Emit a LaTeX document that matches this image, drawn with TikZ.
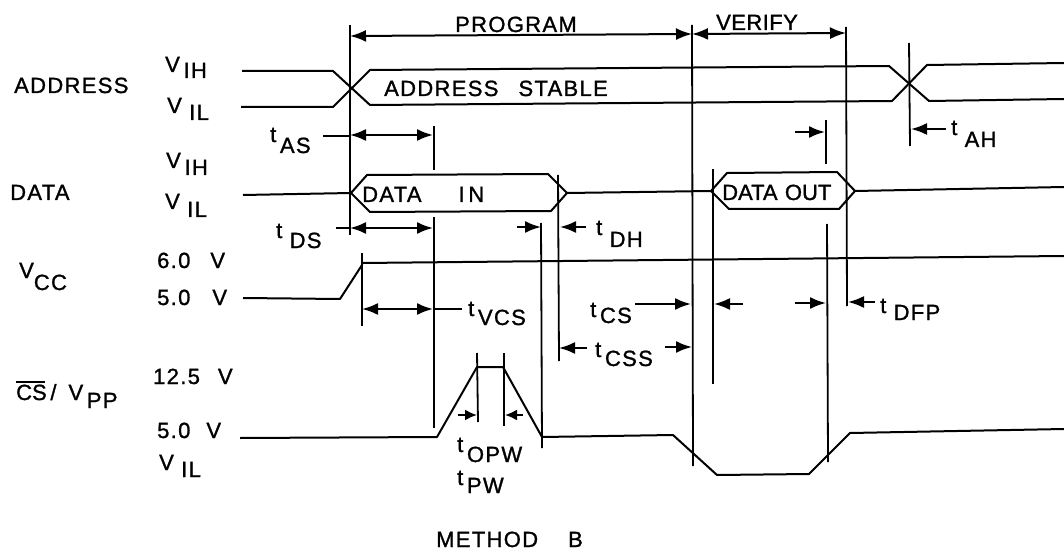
\documentclass[tikz,border=0pt]{standalone}
\usepackage{fontspec}
\setmainfont{Liberation Sans}[LetterSpace=6,FakeBold=1.2]
\usetikzlibrary{arrows.meta}
\newcommand{\lowlbl}[3]{#1\raisebox{-#2pt}{#3}}
\tikzset{
  lbl/.style={
    anchor=base west,
    inner sep=0pt,
    font=\fontsize{22}{26}\selectfont
  },
  wave/.style={
    line width=2pt,
    line join=round
  },
  guide/.style={
    line width=1.8pt
  },
  span/.style={
    line width=2pt,
    {Latex[length=16pt,width=12pt]}-{Latex[length=16pt,width=12pt]}
  },
  pointer/.style={
    line width=2pt,
    -{Latex[length=16pt,width=12pt]}
  },
  smallpointer/.style={
    line width=2pt,
    -{Latex[length=12pt,width=11pt]}
  }
}
\begin{document}
\begin{tikzpicture}[x=1pt, y=-1pt]
  \useasboundingbox (0,0) rectangle (1064,553);

  % left column
  \node[lbl] (address) at (14,93) {ADDRESS};
  \node[lbl] (data) at (10,200) {DATA};
  \node[lbl] (vcc) at (19,278) {\lowlbl{V}{12}{CC}};
  \node[lbl] (csvpp) at (16,400) {\rlap{\rule[17pt]{29pt}{1.6pt}}{\addfontfeature{LetterSpace=0}CS}\,/\hspace{12pt}\lowlbl{V}{8}{\,PP}};
  \node[lbl] (addrhigh) at (165,72) {\lowlbl{V}{6}{\,IH}};
  \node[lbl] (addrlow) at (167,113) {\lowlbl{V}{7}{\,\,IL}};
  \node[lbl] (datahigh) at (166,168) {\lowlbl{V}{7}{\,IH}};
  \node[lbl] (datalow) at (165,209) {\lowlbl{V}{8}{\,\,IL}};
  \node[lbl] (vccsix) at (157,268) {6.0\hspace{20pt}V};
  \node[lbl] (vccfive) at (157,305) {5.0\hspace{22pt}V};
  \node[lbl] (vpphigh) at (153,384) {12.5\hspace{18pt}V};
  \node[lbl] (vppfive) at (157,438) {5.0\hspace{16pt}V};
  \node[lbl] (vpplow) at (159,470) {\lowlbl{V}{7}{\,\,IL}};

  % phases
  \draw[guide] (350,25) -- (350,235);
  \draw[guide] (692,25) -- (693,466);
  \draw[guide] (846,27) -- (847,306);
  \draw[span] (350,36) -- (692,34);
  \draw[span] (692,34) -- (846,33);
  \node[lbl] (program) at (455,32) {PROGRAM};
  \node[lbl] (verify) at (716,30) {\addfontfeature{LetterSpace=2}VERIFY};

  % address
  \draw[wave] (242,71) -- (333,71) -- (370,105) -- (892,101) -- (927,65) -- (1064,63);
  \draw[wave] (241,107) -- (333,107) -- (370,70) -- (889,66) -- (929,101) -- (1064,99);
  \node[lbl] (stable) at (384,96) {ADDRESS\hspace{20pt}STABLE};
  \draw[guide] (909,43) -- (910,146);
  \draw[pointer] (946,129) -- (911,129);
  \node[lbl] (tah) at (951,135) {\lowlbl{t}{12}{\,\,AH}};

  % data
  \draw[wave] (243,195) -- (351,193) -- (367,175) -- (548,174) -- (567,193) -- (551,211) -- (370,212) -- (351,193);
  \draw[wave] (567,193) -- (711,191) -- (727,173) -- (837,172) -- (855,191) -- (839,209) -- (729,209) -- (711,191);
  \draw[wave] (855,191) -- (1064,187);
  \node[lbl] (datain) at (362,202) {DATA\hspace{37pt}I\,N};
  \node[lbl] (dataout) at (722,200) {\addfontfeature{LetterSpace=0}DATA\,\,OUT};
  \draw[guide] (434,126) -- (434,170);
  \draw[guide] (434,217) -- (434,428);
  \draw[guide] (541,223) -- (542,448);
  \draw[guide] (558,175) -- (559,361);
  \draw[guide] (713,169) -- (713,384);
  \draw[guide] (826,120) -- (826,164);
  \draw[guide] (827,224) -- (828,462);
  \draw[guide] (362,253) -- (362,326);

  % data timings
  \draw[guide] (323,136) -- (350,136);
  \draw[span] (350,135) -- (433,135);
  \node[lbl] (tas) at (270,142) {\lowlbl{t}{11}{\,AS}};
  \draw[guide] (336,228) -- (350,228);
  \draw[span] (350,228) -- (433,228);
  \node[lbl] (tds) at (276,238) {\lowlbl{t}{10}{\,\,DS}};
  \draw[pointer] (517,227) -- (541,227);
  \draw[pointer] (586,227) -- (560,227);
  \node[lbl] (tdh) at (596,235) {\lowlbl{t}{12}{\,\,DH}};
  \draw[pointer] (795,132) -- (825,132);

  % vcc
  \draw[wave] (243,298) -- (340,299) -- (362,265) -- (362,263) -- (1064,256);
  \draw[guide] (434,309) -- (462,309);
  \draw[span] (362,309) -- (433,309);
  \node[lbl] (tvcs) at (468,316) {\lowlbl{t}{9}{\,VCS}};
  \node[lbl] (tcs) at (590,317) {\lowlbl{t}{6}{\,CS}};
  \draw[pointer] (635,304) -- (691,304);
  \draw[pointer] (743,304) -- (714,304);
  \draw[pointer] (795,303) -- (826,303);
  \draw[pointer] (875,302) -- (848,302);
  \node[lbl] (tdfp) at (880,313) {\lowlbl{t}{7}{\,\,DFP}};
  \node[lbl] (tcss) at (595,357) {\lowlbl{t}{9}{\,CSS}};
  \draw[pointer] (587,348) -- (559,348);
  \draw[pointer] (665,347) -- (692,347);

  % cs/vpp
  \draw[wave] (240,438) -- (437,437) -- (477,367) -- (503,367) -- (542,437) -- (673,435) -- (717,475) -- (809,474) -- (850,433) -- (1064,429);
  \draw[guide] (477,353) -- (478,422);
  \draw[guide] (504,353) -- (504,426);
  \draw[smallpointer] (458,415) -- (477,415);
  \draw[smallpointer] (523,415) -- (505,415);
  \node[lbl] (topw) at (457,452) {\lowlbl{t}{10}{\,OPW}};
  \node[lbl] (tpw) at (457,485) {\lowlbl{t}{8}{\,PW}};

  \node[lbl] (method) at (436,547) {METHOD\hspace{30pt}B};
\end{tikzpicture}
\end{document}
